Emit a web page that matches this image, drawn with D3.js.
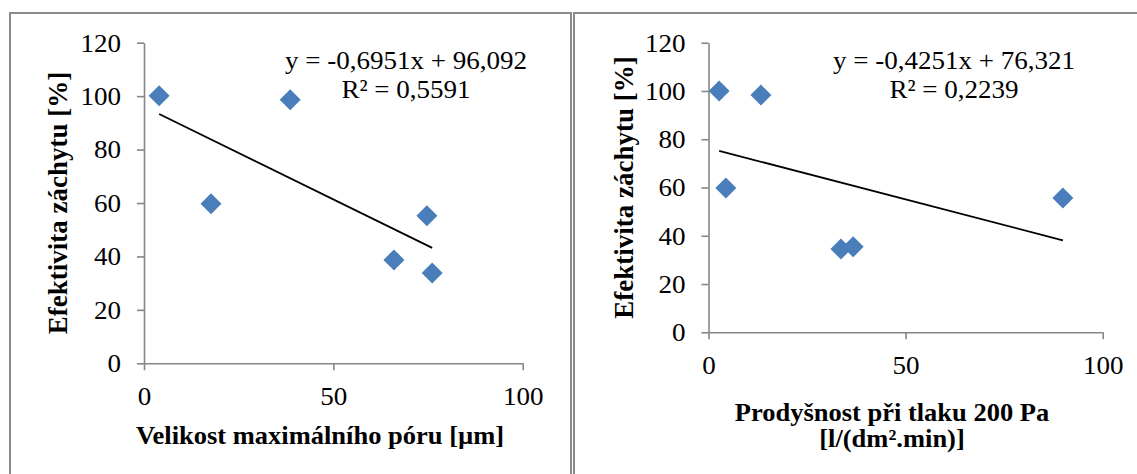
<!DOCTYPE html>
<html><head><meta charset="utf-8">
<script src="https://cdn.jsdelivr.net/npm/d3@7"></script>
<style>body{margin:0;background:#fff} svg{display:block}</style>
</head><body>
<svg id="c" width="1137" height="474"></svg>
<script>
// ---- data ----
const poreSize = [4.0, 17.7, 38.6, 66.0, 74.7, 76.1];
const poreEff = [100.1, 59.7, 98.6, 38.7, 55.2, 33.8];
const permeability = [2.7, 13.3, 4.4, 33.6, 36.7, 89.9];
const permEff = [100.0, 98.3, 59.8, 34.5, 35.4, 55.7];
const yTicks = [0, 20, 40, 60, 80, 100, 120];
const xTicks = [0, 50, 100];
const eqLeft = ["y = -0,6951x + 96,092", "R² = 0,5591"];
const eqRight = ["y = -0,4251x + 76,321", "R² = 0,2239"];
const trendLeft = [-0.6951, 96.092];
const trendRight = [-0.4251, 76.321];
const yTitle = "Efektivita záchytu [%]";
const xTitleLeft = ["Velikost maximálního póru [µm]"];
const xTitleRight = ["Prodyšnost při tlaku 200 Pa", "[l/(dm².min)]"];

// ---- drawing ----
const SX = 1.04, SXT = 1.06;
const FONT = "'Liberation Serif','Times New Roman',serif";
const AXIS = "#868686";
const BLUE = "#4a7ebb";
const svg = d3.select("#c");

// frames
const frame = svg.append("g").attr("fill", "none").attr("stroke", "#8a8a8a").attr("stroke-width", 2);
frame.append("path").attr("d", "M10,480V13H571V480");
frame.append("path").attr("d", "M574,480V13H1140");

function panel(cfg) {
  const x = d3.scaleLinear().domain([0, 100]).range(cfg.xr);
  const y = d3.scaleLinear().domain([0, 120]).range(cfg.yr);
  const g = svg.append("g");

  const ya = g.append("g").attr("transform", `translate(${cfg.xr[0]},0)`)
    .call(d3.axisLeft(y).tickValues(yTicks).tickSize(7).tickPadding(16).tickSizeOuter(0));
  const xa = g.append("g").attr("transform", `translate(0,${cfg.yr[0]})`)
    .call(d3.axisBottom(x).tickValues(xTicks).tickSize(7).tickPadding(cfg.xPad).tickSizeOuter(0));
  [ya, xa].forEach(a => {
    a.select(".domain").attr("stroke", AXIS).attr("stroke-width", 1.6);
    a.selectAll(".tick line").attr("stroke", AXIS).attr("stroke-width", 1.6);
    a.selectAll("text").attr("font-family", FONT).attr("font-size", 26).attr("fill", "#000");
  });
  ya.selectAll("text").attr("x", -23 / SX).attr("transform", `scale(${SX},1)`);
  xa.selectAll("text").attr("transform", `scale(${SX},1)`);

  // trend line
  const xs = cfg.xv, x0 = d3.min(xs), x1 = d3.max(xs);
  const [m, b] = cfg.trend;
  g.append("line")
    .attr("x1", x(x0)).attr("y1", y(m * x0 + b))
    .attr("x2", x(x1)).attr("y2", y(m * x1 + b))
    .attr("stroke", "#000").attr("stroke-width", 1.8);

  // markers
  const r = 10.5;
  g.selectAll("path.pt").data(d3.zip(cfg.xv, cfg.yv)).join("path")
    .attr("class", "pt")
    .attr("d", d => `M${x(d[0])},${y(d[1]) - r}L${x(d[0]) + r},${y(d[1])}L${x(d[0])},${y(d[1]) + r}L${x(d[0]) - r},${y(d[1])}Z`)
    .attr("fill", BLUE);

  // equation
  cfg.eq.forEach((t, i) => {
    g.append("text").attr("transform", `translate(${cfg.eqX},${cfg.eqY[i]}) scale(${SX},1)`)
      .attr("text-anchor", "middle").attr("font-family", FONT).attr("font-size", 26).text(t);
  });

  // y title
  g.append("text")
    .attr("transform", `translate(${cfg.ytX},${(cfg.yr[0] + cfg.yr[1]) / 2}) rotate(-90)`)
    .attr("text-anchor", "middle").attr("font-family", FONT).attr("font-weight", "bold")
    .attr("font-size", 27).text(yTitle);

  // x title
  cfg.xt.forEach((t, i) => {
    g.append("text").attr("transform", `translate(${cfg.xtX},${cfg.xtY[i]}) scale(${SXT},1)`)
      .attr("text-anchor", "middle").attr("font-family", FONT).attr("font-weight", "bold")
      .attr("font-size", 25).text(t);
  });
}

panel({
  xr: [144, 522.7], yr: [363.3, 42.7], xPad: 16,
  xv: poreSize, yv: poreEff, trend: trendLeft,
  eq: eqLeft, eqX: 406, eqY: [69, 98],
  ytX: 67, xt: xTitleLeft, xtX: 320, xtY: [444]
});
panel({
  xr: [708.5, 1102.7], yr: [332.3, 42.7], xPad: 16,
  xv: permeability, yv: permEff, trend: trendRight,
  eq: eqRight, eqX: 954, eqY: [69, 98],
  ytX: 633, xt: xTitleRight, xtX: 892, xtY: [421, 447]
});
</script>
</body></html>
